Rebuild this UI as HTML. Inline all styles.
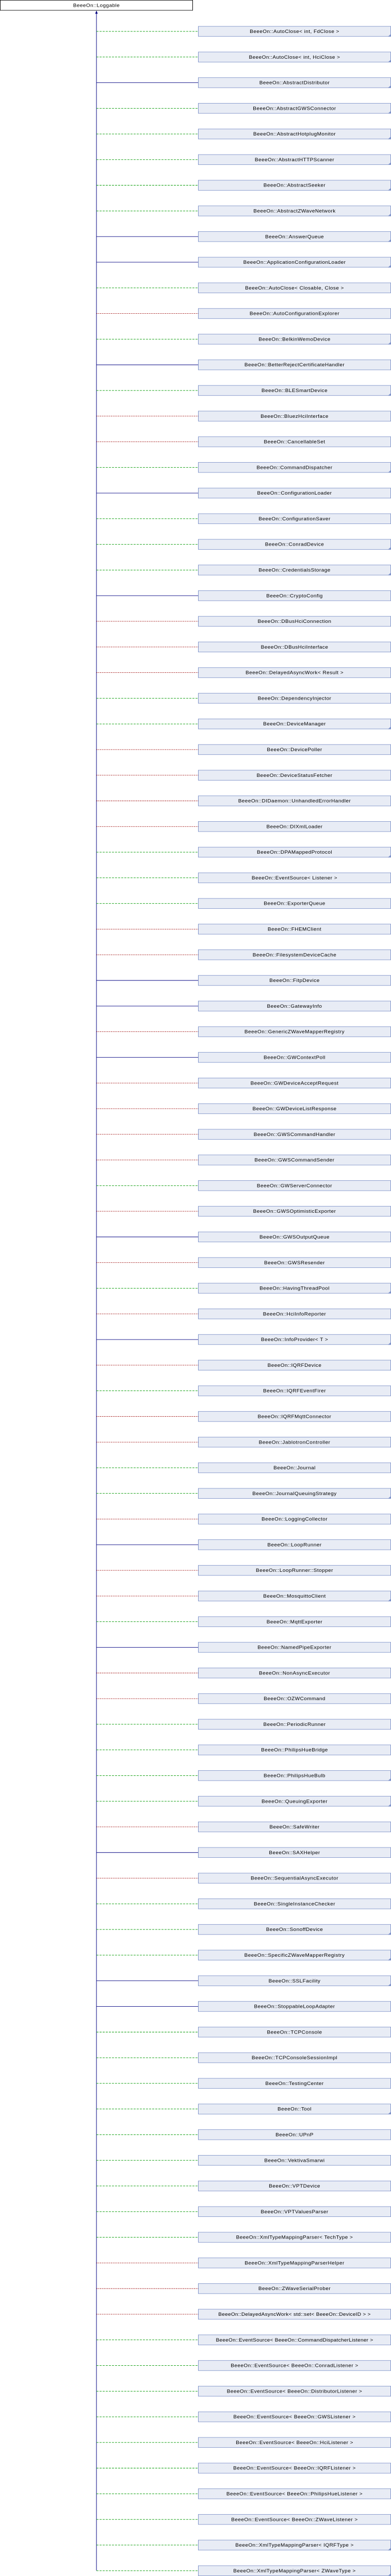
<!DOCTYPE html>
<html><head><meta charset="utf-8"><meta name="viewport" content="width=758"><style>
html,body{margin:0;padding:0;background:#fff;width:100%;height:100%;overflow:hidden}
svg{position:fixed;top:0;left:0;width:100vw;height:100vh;display:block}
text{font-family:"Liberation Sans",Arial,sans-serif;font-size:10px;letter-spacing:0.45px;text-anchor:middle;fill:#000}
.b{fill:#e8ecf5;stroke:#7f93c9;stroke-width:1}
.s{stroke:#000080;stroke-width:1;fill:none}
.g{stroke:#009900;stroke-width:1;stroke-dasharray:4,2;fill:none}
.r{stroke:#990000;stroke-width:1;stroke-dasharray:2,1.5;fill:none}
.f{fill:#7f93c9}
</style></head><body>
<svg viewBox="0 0 758 5624" preserveAspectRatio="none" xmlns="http://www.w3.org/2000/svg">
<defs>
<g id="F"><polygon class="f" points="758,74 758,80 752,80"/></g>
</defs>
<rect x="0.5" y="0.5" width="373" height="22" fill="#fff" stroke="#000"/>
<text x="187" y="15">BeeeOn::Loggable</text>
<line x1="187" y1="29" x2="187" y2="5612" class="s"/>
<polygon points="187,23 184.5,30 189.5,30" fill="#000080"/>

<g transform="translate(0,0)"><path class="g" d="M187 68.5H384"/><rect class="b" x="384.5" y="57.5" width="373" height="22"/><use href="#F"/><text x="571" y="72">BeeeOn::AutoClose&lt; int, FdClose &gt;</text></g>
<g transform="translate(0,56)"><path class="g" d="M187 68.5H384"/><rect class="b" x="384.5" y="57.5" width="373" height="22"/><use href="#F"/><text x="571" y="72">BeeeOn::AutoClose&lt; int, HciClose &gt;</text></g>
<g transform="translate(0,112)"><path class="s" d="M187 68.5H384"/><rect class="b" x="384.5" y="57.5" width="373" height="22"/><use href="#F"/><text x="571" y="72">BeeeOn::AbstractDistributor</text></g>
<g transform="translate(0,168)"><path class="g" d="M187 68.5H384"/><rect class="b" x="384.5" y="57.5" width="373" height="22"/><use href="#F"/><text x="571" y="72">BeeeOn::AbstractGWSConnector</text></g>
<g transform="translate(0,224)"><path class="g" d="M187 68.5H384"/><rect class="b" x="384.5" y="57.5" width="373" height="22"/><use href="#F"/><text x="571" y="72">BeeeOn::AbstractHotplugMonitor</text></g>
<g transform="translate(0,280)"><path class="g" d="M187 68.5H384"/><rect class="b" x="384.5" y="57.5" width="373" height="22"/><use href="#F"/><text x="571" y="72">BeeeOn::AbstractHTTPScanner</text></g>
<g transform="translate(0,336)"><path class="g" d="M187 68.5H384"/><rect class="b" x="384.5" y="57.5" width="373" height="22"/><use href="#F"/><text x="571" y="72">BeeeOn::AbstractSeeker</text></g>
<g transform="translate(0,392)"><path class="g" d="M187 68.5H384"/><rect class="b" x="384.5" y="57.5" width="373" height="22"/><use href="#F"/><text x="571" y="72">BeeeOn::AbstractZWaveNetwork</text></g>
<g transform="translate(0,448)"><path class="s" d="M187 68.5H384"/><rect class="b" x="384.5" y="57.5" width="373" height="22"/><use href="#F"/><text x="571" y="72">BeeeOn::AnswerQueue</text></g>
<g transform="translate(0,504)"><path class="s" d="M187 68.5H384"/><rect class="b" x="384.5" y="57.5" width="373" height="22"/><use href="#F"/><text x="571" y="72">BeeeOn::ApplicationConfigurationLoader</text></g>

<g transform="translate(0,560)"><path class="g" d="M187 68.5H384"/><rect class="b" x="384.5" y="57.5" width="373" height="22"/><text x="571" y="72">BeeeOn::AutoClose&lt; Closable, Close &gt;</text></g>
<g transform="translate(0,616)"><path class="r" d="M187 68.5H384"/><rect class="b" x="384.5" y="57.5" width="373" height="22"/><text x="571" y="72">BeeeOn::AutoConfigurationExplorer</text></g>
<g transform="translate(0,672)"><path class="g" d="M187 68.5H384"/><rect class="b" x="384.5" y="57.5" width="373" height="22"/><use href="#F"/><text x="571" y="72">BeeeOn::BelkinWemoDevice</text></g>
<g transform="translate(0,728)"><path class="s" d="M187 68.5H384"/><rect class="b" x="384.5" y="57.5" width="373" height="22"/><text x="571" y="72">BeeeOn::BetterRejectCertificateHandler</text></g>
<g transform="translate(0,784)"><path class="g" d="M187 68.5H384"/><rect class="b" x="384.5" y="57.5" width="373" height="22"/><use href="#F"/><text x="571" y="72">BeeeOn::BLESmartDevice</text></g>
<g transform="translate(0,840)"><path class="r" d="M187 68.5H384"/><rect class="b" x="384.5" y="57.5" width="373" height="22"/><text x="571" y="72">BeeeOn::BluezHciInterface</text></g>
<g transform="translate(0,896)"><path class="r" d="M187 68.5H384"/><rect class="b" x="384.5" y="57.5" width="373" height="22"/><text x="571" y="72">BeeeOn::CancellableSet</text></g>
<g transform="translate(0,952)"><path class="g" d="M187 68.5H384"/><rect class="b" x="384.5" y="57.5" width="373" height="22"/><use href="#F"/><text x="571" y="72">BeeeOn::CommandDispatcher</text></g>
<g transform="translate(0,1008)"><path class="s" d="M187 68.5H384"/><rect class="b" x="384.5" y="57.5" width="373" height="22"/><text x="571" y="72">BeeeOn::ConfigurationLoader</text></g>
<g transform="translate(0,1064)"><path class="g" d="M187 68.5H384"/><rect class="b" x="384.5" y="57.5" width="373" height="22"/><text x="571" y="72">BeeeOn::ConfigurationSaver</text></g>

<g transform="translate(0,1120)"><path class="g" d="M187 68.5H384"/><rect class="b" x="384.5" y="57.5" width="373" height="22"/><use href="#F"/><text x="571" y="72">BeeeOn::ConradDevice</text></g>
<g transform="translate(0,1176)"><path class="g" d="M187 68.5H384"/><rect class="b" x="384.5" y="57.5" width="373" height="22"/><use href="#F"/><text x="571" y="72">BeeeOn::CredentialsStorage</text></g>
<g transform="translate(0,1232)"><path class="s" d="M187 68.5H384"/><rect class="b" x="384.5" y="57.5" width="373" height="22"/><text x="571" y="72">BeeeOn::CryptoConfig</text></g>
<g transform="translate(0,1288)"><path class="r" d="M187 68.5H384"/><rect class="b" x="384.5" y="57.5" width="373" height="22"/><text x="571" y="72">BeeeOn::DBusHciConnection</text></g>
<g transform="translate(0,1344)"><path class="r" d="M187 68.5H384"/><rect class="b" x="384.5" y="57.5" width="373" height="22"/><text x="571" y="72">BeeeOn::DBusHciInterface</text></g>
<g transform="translate(0,1400)"><path class="r" d="M187 68.5H384"/><rect class="b" x="384.5" y="57.5" width="373" height="22"/><text x="571" y="72">BeeeOn::DelayedAsyncWork&lt; Result &gt;</text></g>
<g transform="translate(0,1456)"><path class="g" d="M187 68.5H384"/><rect class="b" x="384.5" y="57.5" width="373" height="22"/><text x="571" y="72">BeeeOn::DependencyInjector</text></g>
<g transform="translate(0,1512)"><path class="g" d="M187 68.5H384"/><rect class="b" x="384.5" y="57.5" width="373" height="22"/><use href="#F"/><text x="571" y="72">BeeeOn::DeviceManager</text></g>
<g transform="translate(0,1568)"><path class="r" d="M187 68.5H384"/><rect class="b" x="384.5" y="57.5" width="373" height="22"/><text x="571" y="72">BeeeOn::DevicePoller</text></g>
<g transform="translate(0,1624)"><path class="r" d="M187 68.5H384"/><rect class="b" x="384.5" y="57.5" width="373" height="22"/><text x="571" y="72">BeeeOn::DeviceStatusFetcher</text></g>

<g transform="translate(0,1680)"><path class="r" d="M187 68.5H384"/><rect class="b" x="384.5" y="57.5" width="373" height="22"/><text x="571" y="72">BeeeOn::DIDaemon::UnhandledErrorHandler</text></g>
<g transform="translate(0,1736)"><path class="r" d="M187 68.5H384"/><rect class="b" x="384.5" y="57.5" width="373" height="22"/><text x="571" y="72">BeeeOn::DIXmlLoader</text></g>
<g transform="translate(0,1792)"><path class="g" d="M187 68.5H384"/><rect class="b" x="384.5" y="57.5" width="373" height="22"/><use href="#F"/><text x="571" y="72">BeeeOn::DPAMappedProtocol</text></g>
<g transform="translate(0,1848)"><path class="g" d="M187 68.5H384"/><rect class="b" x="384.5" y="57.5" width="373" height="22"/><text x="571" y="72">BeeeOn::EventSource&lt; Listener &gt;</text></g>
<g transform="translate(0,1904)"><path class="g" d="M187 68.5H384"/><rect class="b" x="384.5" y="57.5" width="373" height="22"/><text x="571" y="72">BeeeOn::ExporterQueue</text></g>
<g transform="translate(0,1960)"><path class="r" d="M187 68.5H384"/><rect class="b" x="384.5" y="57.5" width="373" height="22"/><text x="571" y="72">BeeeOn::FHEMClient</text></g>
<g transform="translate(0,2016)"><path class="r" d="M187 68.5H384"/><rect class="b" x="384.5" y="57.5" width="373" height="22"/><text x="571" y="72">BeeeOn::FilesystemDeviceCache</text></g>
<g transform="translate(0,2072)"><path class="s" d="M187 68.5H384"/><rect class="b" x="384.5" y="57.5" width="373" height="22"/><text x="571" y="72">BeeeOn::FitpDevice</text></g>
<g transform="translate(0,2128)"><path class="s" d="M187 68.5H384"/><rect class="b" x="384.5" y="57.5" width="373" height="22"/><text x="571" y="72">BeeeOn::GatewayInfo</text></g>
<g transform="translate(0,2184)"><path class="r" d="M187 68.5H384"/><rect class="b" x="384.5" y="57.5" width="373" height="22"/><text x="571" y="72">BeeeOn::GenericZWaveMapperRegistry</text></g>

<g transform="translate(0,2240)"><path class="s" d="M187 68.5H384"/><rect class="b" x="384.5" y="57.5" width="373" height="22"/><text x="571" y="72">BeeeOn::GWContextPoll</text></g>
<g transform="translate(0,2296)"><path class="r" d="M187 68.5H384"/><rect class="b" x="384.5" y="57.5" width="373" height="22"/><text x="571" y="72">BeeeOn::GWDeviceAcceptRequest</text></g>
<g transform="translate(0,2352)"><path class="r" d="M187 68.5H384"/><rect class="b" x="384.5" y="57.5" width="373" height="22"/><text x="571" y="72">BeeeOn::GWDeviceListResponse</text></g>
<g transform="translate(0,2408)"><path class="r" d="M187 68.5H384"/><rect class="b" x="384.5" y="57.5" width="373" height="22"/><text x="571" y="72">BeeeOn::GWSCommandHandler</text></g>
<g transform="translate(0,2464)"><path class="r" d="M187 68.5H384"/><rect class="b" x="384.5" y="57.5" width="373" height="22"/><text x="571" y="72">BeeeOn::GWSCommandSender</text></g>
<g transform="translate(0,2520)"><path class="g" d="M187 68.5H384"/><rect class="b" x="384.5" y="57.5" width="373" height="22"/><text x="571" y="72">BeeeOn::GWServerConnector</text></g>
<g transform="translate(0,2576)"><path class="r" d="M187 68.5H384"/><rect class="b" x="384.5" y="57.5" width="373" height="22"/><text x="571" y="72">BeeeOn::GWSOptimisticExporter</text></g>
<g transform="translate(0,2632)"><path class="s" d="M187 68.5H384"/><rect class="b" x="384.5" y="57.5" width="373" height="22"/><text x="571" y="72">BeeeOn::GWSOutputQueue</text></g>
<g transform="translate(0,2688)"><path class="r" d="M187 68.5H384"/><rect class="b" x="384.5" y="57.5" width="373" height="22"/><text x="571" y="72">BeeeOn::GWSResender</text></g>
<g transform="translate(0,2744)"><path class="g" d="M187 68.5H384"/><rect class="b" x="384.5" y="57.5" width="373" height="22"/><use href="#F"/><text x="571" y="72">BeeeOn::HavingThreadPool</text></g>

<g transform="translate(0,2800)"><path class="r" d="M187 68.5H384"/><rect class="b" x="384.5" y="57.5" width="373" height="22"/><text x="571" y="72">BeeeOn::HciInfoReporter</text></g>
<g transform="translate(0,2856)"><path class="s" d="M187 68.5H384"/><rect class="b" x="384.5" y="57.5" width="373" height="22"/><use href="#F"/><text x="571" y="72">BeeeOn::InfoProvider&lt; T &gt;</text></g>
<g transform="translate(0,2912)"><path class="r" d="M187 68.5H384"/><rect class="b" x="384.5" y="57.5" width="373" height="22"/><text x="571" y="72">BeeeOn::IQRFDevice</text></g>
<g transform="translate(0,2968)"><path class="g" d="M187 68.5H384"/><rect class="b" x="384.5" y="57.5" width="373" height="22"/><text x="571" y="72">BeeeOn::IQRFEventFirer</text></g>
<g transform="translate(0,3024)"><path class="r" d="M187 68.5H384"/><rect class="b" x="384.5" y="57.5" width="373" height="22"/><text x="571" y="72">BeeeOn::IQRFMqttConnector</text></g>
<g transform="translate(0,3080)"><path class="r" d="M187 68.5H384"/><rect class="b" x="384.5" y="57.5" width="373" height="22"/><text x="571" y="72">BeeeOn::JablotronController</text></g>
<g transform="translate(0,3136)"><path class="g" d="M187 68.5H384"/><rect class="b" x="384.5" y="57.5" width="373" height="22"/><text x="571" y="72">BeeeOn::Journal</text></g>
<g transform="translate(0,3192)"><path class="g" d="M187 68.5H384"/><rect class="b" x="384.5" y="57.5" width="373" height="22"/><use href="#F"/><text x="571" y="72">BeeeOn::JournalQueuingStrategy</text></g>
<g transform="translate(0,3248)"><path class="r" d="M187 68.5H384"/><rect class="b" x="384.5" y="57.5" width="373" height="22"/><text x="571" y="72">BeeeOn::LoggingCollector</text></g>
<g transform="translate(0,3304)"><path class="s" d="M187 68.5H384"/><rect class="b" x="384.5" y="57.5" width="373" height="22"/><text x="571" y="72">BeeeOn::LoopRunner</text></g>

<g transform="translate(0,3360)"><path class="r" d="M187 68.5H384"/><rect class="b" x="384.5" y="57.5" width="373" height="22"/><text x="571" y="72">BeeeOn::LoopRunner::Stopper</text></g>
<g transform="translate(0,3416)"><path class="r" d="M187 68.5H384"/><rect class="b" x="384.5" y="57.5" width="373" height="22"/><use href="#F"/><text x="571" y="72">BeeeOn::MosquittoClient</text></g>
<g transform="translate(0,3472)"><path class="g" d="M187 68.5H384"/><rect class="b" x="384.5" y="57.5" width="373" height="22"/><text x="571" y="72">BeeeOn::MqttExporter</text></g>
<g transform="translate(0,3528)"><path class="s" d="M187 68.5H384"/><rect class="b" x="384.5" y="57.5" width="373" height="22"/><text x="571" y="72">BeeeOn::NamedPipeExporter</text></g>
<g transform="translate(0,3584)"><path class="r" d="M187 68.5H384"/><rect class="b" x="384.5" y="57.5" width="373" height="22"/><text x="571" y="72">BeeeOn::NonAsyncExecutor</text></g>
<g transform="translate(0,3640)"><path class="r" d="M187 68.5H384"/><rect class="b" x="384.5" y="57.5" width="373" height="22"/><text x="571" y="72">BeeeOn::OZWCommand</text></g>
<g transform="translate(0,3696)"><path class="g" d="M187 68.5H384"/><rect class="b" x="384.5" y="57.5" width="373" height="22"/><text x="571" y="72">BeeeOn::PeriodicRunner</text></g>
<g transform="translate(0,3752)"><path class="g" d="M187 68.5H384"/><rect class="b" x="384.5" y="57.5" width="373" height="22"/><text x="571" y="72">BeeeOn::PhilipsHueBridge</text></g>
<g transform="translate(0,3808)"><path class="g" d="M187 68.5H384"/><rect class="b" x="384.5" y="57.5" width="373" height="22"/><use href="#F"/><text x="571" y="72">BeeeOn::PhilipsHueBulb</text></g>
<g transform="translate(0,3864)"><path class="g" d="M187 68.5H384"/><rect class="b" x="384.5" y="57.5" width="373" height="22"/><use href="#F"/><text x="571" y="72">BeeeOn::QueuingExporter</text></g>

<g transform="translate(0,3920)"><path class="r" d="M187 68.5H384"/><rect class="b" x="384.5" y="57.5" width="373" height="22"/><text x="571" y="72">BeeeOn::SafeWriter</text></g>
<g transform="translate(0,3976)"><path class="s" d="M187 68.5H384"/><rect class="b" x="384.5" y="57.5" width="373" height="22"/><text x="571" y="72">BeeeOn::SAXHelper</text></g>
<g transform="translate(0,4032)"><path class="r" d="M187 68.5H384"/><rect class="b" x="384.5" y="57.5" width="373" height="22"/><text x="571" y="72">BeeeOn::SequentialAsyncExecutor</text></g>
<g transform="translate(0,4088)"><path class="g" d="M187 68.5H384"/><rect class="b" x="384.5" y="57.5" width="373" height="22"/><text x="571" y="72">BeeeOn::SingleInstanceChecker</text></g>
<g transform="translate(0,4144)"><path class="g" d="M187 68.5H384"/><rect class="b" x="384.5" y="57.5" width="373" height="22"/><use href="#F"/><text x="571" y="72">BeeeOn::SonoffDevice</text></g>
<g transform="translate(0,4200)"><path class="g" d="M187 68.5H384"/><rect class="b" x="384.5" y="57.5" width="373" height="22"/><use href="#F"/><text x="571" y="72">BeeeOn::SpecificZWaveMapperRegistry</text></g>
<g transform="translate(0,4256)"><path class="s" d="M187 68.5H384"/><rect class="b" x="384.5" y="57.5" width="373" height="22"/><use href="#F"/><text x="571" y="72">BeeeOn::SSLFacility</text></g>
<g transform="translate(0,4312)"><path class="s" d="M187 68.5H384"/><rect class="b" x="384.5" y="57.5" width="373" height="22"/><text x="571" y="72">BeeeOn::StoppableLoopAdapter</text></g>
<g transform="translate(0,4368)"><path class="g" d="M187 68.5H384"/><rect class="b" x="384.5" y="57.5" width="373" height="22"/><text x="571" y="72">BeeeOn::TCPConsole</text></g>
<g transform="translate(0,4424)"><path class="g" d="M187 68.5H384"/><rect class="b" x="384.5" y="57.5" width="373" height="22"/><text x="571" y="72">BeeeOn::TCPConsoleSessionImpl</text></g>

<g transform="translate(0,4480)"><path class="g" d="M187 68.5H384"/><rect class="b" x="384.5" y="57.5" width="373" height="22"/><text x="571" y="72">BeeeOn::TestingCenter</text></g>
<g transform="translate(0,4536)"><path class="g" d="M187 68.5H384"/><rect class="b" x="384.5" y="57.5" width="373" height="22"/><use href="#F"/><text x="571" y="72">BeeeOn::Tool</text></g>
<g transform="translate(0,4592)"><path class="g" d="M187 68.5H384"/><rect class="b" x="384.5" y="57.5" width="373" height="22"/><text x="571" y="72">BeeeOn::UPnP</text></g>
<g transform="translate(0,4648)"><path class="g" d="M187 68.5H384"/><rect class="b" x="384.5" y="57.5" width="373" height="22"/><text x="571" y="72">BeeeOn::VektivaSmarwi</text></g>
<g transform="translate(0,4704)"><path class="g" d="M187 68.5H384"/><rect class="b" x="384.5" y="57.5" width="373" height="22"/><text x="571" y="72">BeeeOn::VPTDevice</text></g>
<g transform="translate(0,4760)"><path class="g" d="M187 68.5H384"/><rect class="b" x="384.5" y="57.5" width="373" height="22"/><text x="571" y="72">BeeeOn::VPTValuesParser</text></g>
<g transform="translate(0,4816)"><path class="g" d="M187 68.5H384"/><rect class="b" x="384.5" y="57.5" width="373" height="22"/><text x="571" y="72">BeeeOn::XmlTypeMappingParser&lt; TechType &gt;</text></g>
<g transform="translate(0,4872)"><path class="r" d="M187 68.5H384"/><rect class="b" x="384.5" y="57.5" width="373" height="22"/><text x="571" y="72">BeeeOn::XmlTypeMappingParserHelper</text></g>
<g transform="translate(0,4928)"><path class="r" d="M187 68.5H384"/><rect class="b" x="384.5" y="57.5" width="373" height="22"/><text x="571" y="72">BeeeOn::ZWaveSerialProber</text></g>
<g transform="translate(0,4984)"><path class="r" d="M187 68.5H384"/><rect class="b" x="384.5" y="57.5" width="373" height="22"/><text x="571" y="72" style="letter-spacing:0.3px">BeeeOn::DelayedAsyncWork&lt; std::set&lt; BeeeOn::DeviceID &gt; &gt;</text></g>

<g transform="translate(0,5040)"><path class="g" d="M187 68.5H384"/><rect class="b" x="384.5" y="57.5" width="373" height="22"/><text x="571" y="72" style="letter-spacing:0.3px">BeeeOn::EventSource&lt; BeeeOn::CommandDispatcherListener &gt;</text></g>
<g transform="translate(0,5096)"><path class="g" d="M187 68.5H384"/><rect class="b" x="384.5" y="57.5" width="373" height="22"/><text x="571" y="72">BeeeOn::EventSource&lt; BeeeOn::ConradListener &gt;</text></g>
<g transform="translate(0,5152)"><path class="g" d="M187 68.5H384"/><rect class="b" x="384.5" y="57.5" width="373" height="22"/><text x="571" y="72">BeeeOn::EventSource&lt; BeeeOn::DistributorListener &gt;</text></g>
<g transform="translate(0,5208)"><path class="g" d="M187 68.5H384"/><rect class="b" x="384.5" y="57.5" width="373" height="22"/><text x="571" y="72">BeeeOn::EventSource&lt; BeeeOn::GWSListener &gt;</text></g>
<g transform="translate(0,5264)"><path class="g" d="M187 68.5H384"/><rect class="b" x="384.5" y="57.5" width="373" height="22"/><text x="571" y="72">BeeeOn::EventSource&lt; BeeeOn::HciListener &gt;</text></g>
<g transform="translate(0,5320)"><path class="g" d="M187 68.5H384"/><rect class="b" x="384.5" y="57.5" width="373" height="22"/><text x="571" y="72">BeeeOn::EventSource&lt; BeeeOn::IQRFListener &gt;</text></g>
<g transform="translate(0,5376)"><path class="g" d="M187 68.5H384"/><rect class="b" x="384.5" y="57.5" width="373" height="22"/><text x="571" y="72">BeeeOn::EventSource&lt; BeeeOn::PhilipsHueListener &gt;</text></g>
<g transform="translate(0,5432)"><path class="g" d="M187 68.5H384"/><rect class="b" x="384.5" y="57.5" width="373" height="22"/><text x="571" y="72">BeeeOn::EventSource&lt; BeeeOn::ZWaveListener &gt;</text></g>
<g transform="translate(0,5488)"><path class="g" d="M187 68.5H384"/><rect class="b" x="384.5" y="57.5" width="373" height="22"/><use href="#F"/><text x="571" y="72">BeeeOn::XmlTypeMappingParser&lt; IQRFType &gt;</text></g>
<g transform="translate(0,5544)"><path class="g" d="M187 68.5H384"/><rect class="b" x="384.5" y="57.5" width="373" height="22"/><use href="#F"/><text x="571" y="72">BeeeOn::XmlTypeMappingParser&lt; ZWaveType &gt;</text></g>
</svg>
</body></html>
